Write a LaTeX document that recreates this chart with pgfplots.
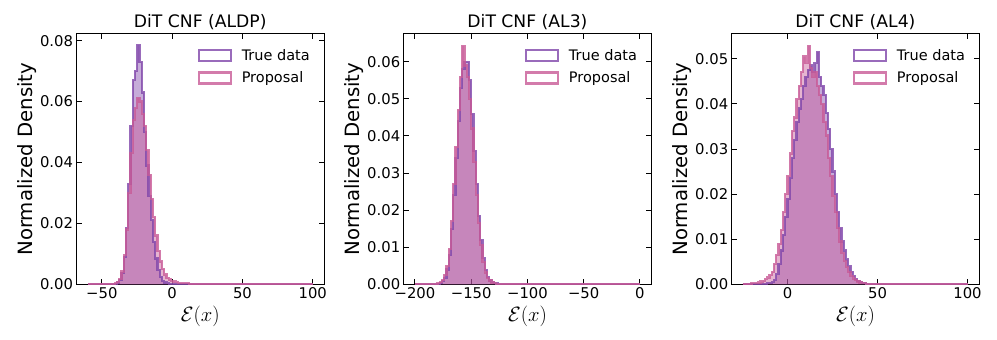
\documentclass[border=0pt]{standalone}
\usepackage{pgfplots}
\pgfplotsset{compat=1.18}
\usepackage{pgfplotstable}
\usepackage{fontspec}
\setmainfont{DejaVu Sans}

\definecolor{truecol}{RGB}{128,70,170}
\definecolor{propcol}{RGB}{200,90,150}

% histogram tables: left bin edge, normalized density
\pgfplotstableread{
x y
-60 0
-42.4 0.0001
-40.8 0.0002
-39.2 0.0006
-37.6 0.0015
-36.0 0.0038
-34.4 0.0090
-32.8 0.0185
-31.2 0.0330
-29.6 0.0520
-28.0 0.0670
-26.4 0.0700
-24.8 0.0786
-23.2 0.0730
-21.6 0.0630
-20.0 0.0500
-18.4 0.0390
-16.8 0.0290
-15.2 0.0210
-13.6 0.0140
-12.0 0.0085
-10.4 0.0048
-8.8 0.0024
-7.2 0.0012
-5.6 0.0006
-4.0 0.0003
-2.4 0.0001
-0.8 0
100 0
}\aldptrue

\pgfplotstableread{
x y
-60 0
-44.0 0.0001
-42.4 0.0002
-40.8 0.0004
-39.2 0.0008
-37.6 0.0018
-36.0 0.0042
-34.4 0.0095
-32.8 0.0180
-31.2 0.0300
-29.6 0.0430
-28.0 0.0540
-26.4 0.0580
-24.8 0.0612
-23.2 0.0600
-21.6 0.0560
-20.0 0.0520
-18.4 0.0440
-16.8 0.0360
-15.2 0.0280
-13.6 0.0220
-12.0 0.0160
-10.4 0.0110
-8.8 0.0075
-7.2 0.0050
-5.6 0.0032
-4.0 0.0022
-2.4 0.0016
-0.8 0.0012
0.8 0.0009
2.4 0.0007
4.0 0.0005
5.6 0.0004
7.2 0.0004
8.8 0.0003
10.4 0.0003
12.0 0.0002
13.6 0.0002
15.2 0.0001
16.8 0
100 0
}\aldpprop

\pgfplotstableread{
x y
-200 0
-180 0.0001
-178 0.0003
-176 0.0008
-174 0.0018
-172 0.0040
-170 0.0080
-168 0.0150
-166 0.0240
-164 0.0340
-162 0.0440
-160 0.0530
-158 0.0580
-156 0.0600
-154 0.0600
-152 0.0550
-150 0.0460
-148 0.0360
-146 0.0270
-144 0.0185
-142 0.0120
-140 0.0070
-138 0.0038
-136 0.0020
-134 0.0010
-132 0.0006
-130 0.0003
-128 0.0002
-126 0.0001
-124 0
0 0
}\althtrue

\pgfplotstableread{
x y
-200 0
-182 0.0001
-180 0.0003
-178 0.0006
-176 0.0012
-174 0.0025
-172 0.0050
-170 0.0095
-168 0.0170
-166 0.0270
-164 0.0370
-162 0.0470
-160 0.0560
-158 0.0643
-156 0.0590
-154 0.0560
-152 0.0500
-150 0.0420
-148 0.0330
-146 0.0240
-144 0.0165
-142 0.0105
-140 0.0060
-138 0.0032
-136 0.0018
-134 0.0010
-132 0.0005
-130 0.0003
-128 0.0001
-126 0
0 0
}\althprop

\pgfplotstableread{
x y
-25 0
-12.5 0.0001
-11.25 0.0002
-10.0 0.0003
-8.75 0.0005
-7.5 0.0010
-6.25 0.0022
-5.0 0.0045
-3.75 0.0075
-2.5 0.0110
-1.25 0.0150
0.0 0.0190
1.25 0.0235
2.5 0.0280
3.75 0.0320
5.0 0.0360
6.25 0.0390
7.5 0.0410
8.75 0.0440
10.0 0.0460
11.25 0.0475
12.5 0.0485
13.75 0.0470
15.0 0.0490
16.25 0.0515
17.5 0.0460
18.75 0.0440
20.0 0.0420
21.25 0.0380
22.5 0.0345
23.75 0.0300
25.0 0.0250
26.25 0.0200
27.5 0.0160
28.75 0.0125
30.0 0.0095
31.25 0.0075
32.5 0.0055
33.75 0.0040
35.0 0.0028
36.25 0.0018
37.5 0.0012
38.75 0.0008
40.0 0.0005
41.25 0.0003
42.5 0.0002
43.75 0.0001
45.0 0
100 0
}\alfrtrue

\pgfplotstableread{
x y
-25 0
-22.5 0.0001
-20.0 0.0002
-17.5 0.0003
-16.25 0.0004
-15.0 0.0006
-13.75 0.0008
-12.5 0.0011
-11.25 0.0015
-10.0 0.0020
-8.75 0.0028
-7.5 0.0045
-6.25 0.0065
-5.0 0.0090
-3.75 0.0120
-2.5 0.0160
-1.25 0.0200
0.0 0.0240
1.25 0.0290
2.5 0.0340
3.75 0.0370
5.0 0.0410
6.25 0.0440
7.5 0.0470
8.75 0.0505
10.0 0.0490
11.25 0.0529
12.5 0.0480
13.75 0.0460
15.0 0.0470
16.25 0.0440
17.5 0.0420
18.75 0.0400
20.0 0.0360
21.25 0.0330
22.5 0.0280
23.75 0.0240
25.0 0.0195
26.25 0.0160
27.5 0.0125
28.75 0.0095
30.0 0.0070
31.25 0.0052
32.5 0.0038
33.75 0.0027
35.0 0.0019
36.25 0.0013
37.5 0.0009
38.75 0.0006
40.0 0.0004
41.25 0.0003
42.5 0.0002
43.75 0.0001
45.0 0
55.0 0.0001
56.25 0
100 0
}\alfrprop

\pgfplotsset{
  histax/.style={
    scale only axis, width=247.5bp, height=250.3bp, anchor=south west,
    ymin=0,
    axis line style={line width=1bp},
    tick style={line width=1bp, black},
    tick align=inside, major tick length=5bp,
    ticklabel style={font=\fontsize{14.8bp}{17bp}\selectfont},
    /pgf/number format/assume math mode=true,
    scaled y ticks=false,
    yticklabel style={/pgf/number format/fixed, /pgf/number format/fixed zerofill, /pgf/number format/precision=2},
    title style={font=\fontsize{17.2bp}{20bp}\selectfont, at={(0.5,1)}, anchor=base, yshift=0.7bp},
    ylabel={Normalized Density},
    ylabel style={font=\fontsize{19.7bp}{22bp}\selectfont, yshift=-3bp},
    xlabel={$\mathcal{E}(x)$},
    xlabel style={font=\fontsize{19.7bp}{22bp}\selectfont},
    legend style={draw=none, fill=none, at={(1,1)}, anchor=north east, xshift=-9bp, yshift=-11bp,
      font=\fontsize{14.5bp}{17bp}\selectfont, row sep=6bp},
    legend cell align=left,
  },
  fillh/.style={const plot, fill=#1, fill opacity=0.45, draw=none, forget plot},
  outl/.style={const plot, draw=#1, line width=2.2bp, draw opacity=0.8,
    legend image code/.code={\draw[##1, fill=none] (0bp,-5.5bp) rectangle (32bp,5.5bp);
      \path (40bp,0bp);}},
}

\begin{document}
\begin{tikzpicture}
\useasboundingbox (0,0) rectangle (997bp,340bp);

\begin{axis}[histax, at={(76.5bp,55.7bp)},
  title={DiT CNF (ALDP)},
  xmin=-68, xmax=108, ymax=0.0822,
  xtick={-50,0,50,100}, xticklabels={−50,0,50,100},
  ytick={0,0.02,0.04,0.06,0.08}]
  \addplot[fillh=truecol] table {\aldptrue} \closedcycle;
  \addplot[fillh=propcol] table {\aldpprop} \closedcycle;
  \addplot[outl=truecol] table {\aldptrue};
  \addplot[outl=propcol] table {\aldpprop};
  \legend{True data, Proposal}
\end{axis}

\begin{axis}[histax, at={(403.7bp,55.7bp)},
  title={DiT CNF (AL3)},
  xmin=-210, xmax=10, ymax=0.0675,
  xtick={-200,-150,-100,-50,0}, xticklabels={−200,−150,−100,−50,0},
  ytick={0,0.01,0.02,0.03,0.04,0.05,0.06}]
  \addplot[fillh=truecol] table {\althtrue} \closedcycle;
  \addplot[fillh=propcol] table {\althprop} \closedcycle;
  \addplot[outl=truecol] table {\althtrue};
  \addplot[outl=propcol] table {\althprop};
  \legend{True data, Proposal}
\end{axis}

\begin{axis}[histax, at={(731.7bp,55.7bp)},
  title={DiT CNF (AL4)},
  xmin=-31, xmax=106.5, ymax=0.0555,
  xtick={0,50,100}, xticklabels={0,50,100},
  ytick={0,0.01,0.02,0.03,0.04,0.05}]
  \addplot[fillh=truecol] table {\alfrtrue} \closedcycle;
  \addplot[fillh=propcol] table {\alfrprop} \closedcycle;
  \addplot[outl=truecol] table {\alfrtrue};
  \addplot[outl=propcol] table {\alfrprop};
  \legend{True data, Proposal}
\end{axis}
\end{tikzpicture}
\end{document}
